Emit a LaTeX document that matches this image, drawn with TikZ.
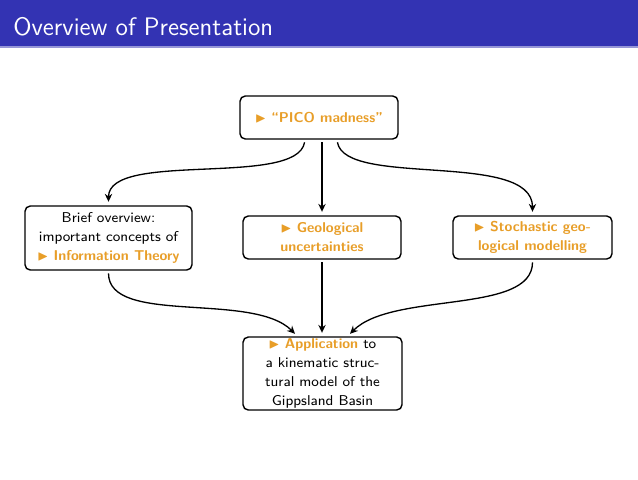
\documentclass[tikz,border=0pt]{standalone}
\usepackage{amssymb}
\usetikzlibrary{calc,arrows.meta}
\definecolor{bblue}{RGB}{51,51,179}
\definecolor{bline}{RGB}{150,150,215}
\definecolor{orng}{RGB}{232,158,40}
\newcommand\hlink[1]{{\color{orng}$\blacktriangleright$\ \bfseries #1}}
\begin{document}
\begin{tikzpicture}[x=0.56865pt,y=0.56865pt,
  box/.style={draw=black,line width=0.8pt,rounded corners=3pt,fill=white,align=center,inner sep=0pt,
    font=\sffamily\fontsize{8.1}{10.8}\selectfont},
  arr/.style={-{Stealth[length=4.5pt,width=4.2pt]},line width=0.75pt,shorten <=1.5pt,shorten >=2pt}]
\useasboundingbox (0,0) rectangle (638,-479);
% title bar
\fill[bblue] (0,0) rectangle (638,-46);
\fill[bline] (0,-46) rectangle (638,-47.5);
\node[anchor=base west,text=white,inner sep=0pt,font=\sffamily\fontsize{14.4}{17}\selectfont] (title) at (13,-35) {Overview of Presentation};
% nodes
\node[box,minimum width=89.85pt,minimum height=24.45pt] (pico) at (319,-117.5) {\hlink{``PICO madness''}};
\node[box,minimum width=94.96pt,minimum height=36.4pt] (brief) at (108.5,-238) {Brief overview:\\important concepts of\\\hlink{Information Theory}};
\node[box,minimum width=89.85pt,minimum height=24.45pt] (geo) at (322,-237.5) {\hlink{Geological}\\{\color{orng}\bfseries uncertainties}};
\node[box,minimum width=90.4pt,minimum height=24.45pt] (stoch) at (532.5,-237.5) {\hlink{Stochastic geo-}\\{\color{orng}\bfseries logical modelling}};
\node[box,minimum width=90.4pt,minimum height=41.5pt] (app) at (322.5,-373.5) {\hlink{Application} to\\a kinematic struc-\\tural model of the\\Gippsland Basin};
% connectors
\draw[arr] ($(pico.south)+(-14,0)$) .. controls +(-8,-48) and +(0,55) .. (brief.north);
\draw[arr] (geo.north |- pico.south) -- (geo.north);
\draw[arr] ($(pico.south)+(18,0)$) .. controls +(8,-48) and +(0,65) .. (stoch.north);
\draw[arr] (brief.south) .. controls +(0,-55) and +(-45,45) .. ($(app.north)+(-25,0)$);
\draw[arr] (geo.south) -- (geo.south |- app.north);
\draw[arr] (stoch.south) .. controls +(0,-55) and +(45,45) .. ($(app.north)+(25,0)$);
\end{tikzpicture}
\end{document}
